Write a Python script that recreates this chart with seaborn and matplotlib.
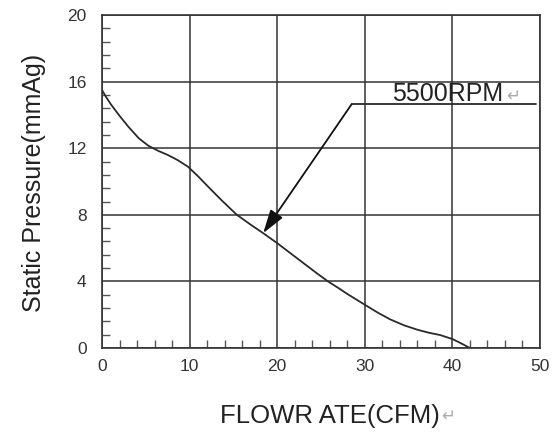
import matplotlib
matplotlib.use('Agg')
import matplotlib.pyplot as plt
import numpy as np
import pandas as pd
import seaborn as sns
from matplotlib.ticker import MultipleLocator

# curve (CFM vs mmAq)
flow = [0, 0.5, 1.0, 1.5, 2.0, 3.0, 4.2, 5.3, 6.4, 7.5, 8.6, 9.8, 11.0, 12.1,
        13.7, 15.4, 17.0, 18.4, 20, 22.0, 24.5, 25.8, 27.0, 28, 30, 31.5,
        32.9, 34.5, 36, 37.3, 38.6, 40, 41, 42]
pressure = [15.5, 15.05, 14.65, 14.3, 13.95, 13.3, 12.6, 12.15, 11.85, 11.6,
            11.3, 10.9, 10.3, 9.7, 8.85, 8.0, 7.4, 6.9, 6.3, 5.5, 4.5, 4.0,
            3.6, 3.25, 2.6, 2.12, 1.72, 1.36, 1.1, 0.92, 0.78, 0.54, 0.28, 0.0]
x_ticks = [0, 10, 20, 30, 40, 50]
y_ticks = [0, 4, 8, 12, 16, 20]
label_text = '5500RPM'

df = pd.DataFrame({'flow': flow, 'pressure': pressure})

sns.set_style("white")
plt.rcParams['font.family'] = ['Liberation Sans', 'DejaVu Sans']

fig = plt.figure(figsize=(5.59, 4.32), dpi=100)
ax = fig.add_axes([0.1825, 0.1944, 0.966 - 0.1825, 0.965 - 0.1944])

line_col = '#2a2a2a'
sns.lineplot(x='flow', y='pressure', data=df, sort=False, color=line_col, lw=1.3, ax=ax)

ax.set_xlim(0, 50)
ax.set_ylim(0, 20)
ax.set_xticks(x_ticks)
ax.set_yticks(y_ticks)
ax.xaxis.set_minor_locator(MultipleLocator(2))
ax.yaxis.set_minor_locator(MultipleLocator(0.8))
ax.grid(True, which='major', color='#333333', lw=1.1)
ax.tick_params(which='major', length=0, labelsize=12.5, labelcolor='#333333')
ax.tick_params(axis='x', which='major', pad=8)
ax.tick_params(axis='y', which='major', pad=11)
ax.tick_params(which='minor', direction='in', length=6, width=1, color='#555555',
               bottom=True, left=True)
for s in ax.spines.values():
    s.set_color('#333333')
    s.set_linewidth(1.2)

# annotation: leader line + arrow
ax.plot([28.5, 49.6], [14.65, 14.65], color=line_col, lw=1.3)
ax.annotate('', xy=(18.4, 6.9), xytext=(28.5, 14.65),
            arrowprops=dict(arrowstyle='-|>,head_length=0.8,head_width=0.25',
                            mutation_scale=18, color='#111111', lw=1.3,
                            shrinkA=0, shrinkB=0))
ax.text(33.1, 14.85, label_text, fontsize=18, color='#222222', ha='left', va='baseline')
ax.text(46.1, 14.85, '\u21b5', fontsize=12, color='#aaaaaa', ha='left', va='baseline')

ax.set_xlabel('')
ax.set_ylabel('')
fig.text(0.394, 0.036, 'FLOWR ATE(CFM)', fontsize=18.5, color='#222222', ha='left', va='center')
fig.text(0.79, 0.036, '\u21b5', fontsize=12, color='#aaaaaa', ha='left', va='center')
fig.text(0.06, 0.576, 'Static Pressure(mmAg)', fontsize=18, color='#222222',
         rotation=90, ha='center', va='center')

fig.savefig('out.png', dpi=100)
